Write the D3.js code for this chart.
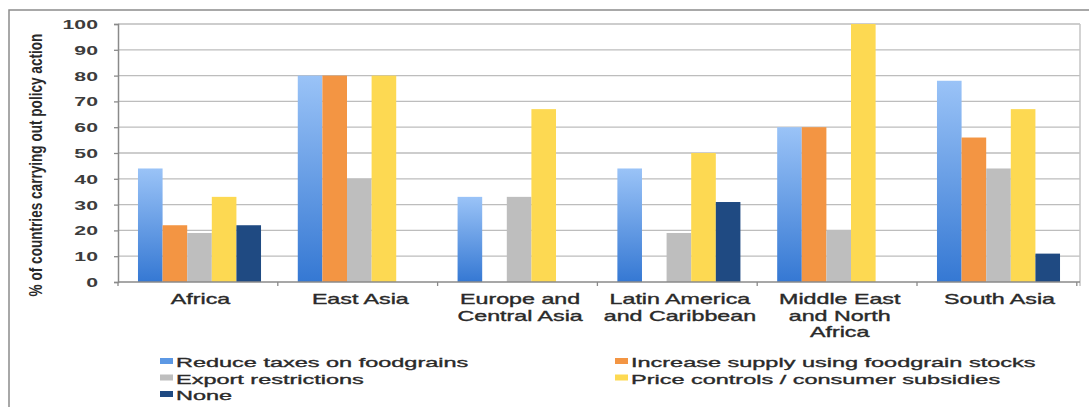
<!DOCTYPE html>
<html>
<head>
<meta charset="utf-8">
<script src="https://cdn.jsdelivr.net/npm/d3@7"></script>
<style>
  body { margin: 0; background: #fff; }
  svg { display: block; font-family: "Liberation Sans", Arial, sans-serif; }
</style>
</head>
<body>
<svg width="1089" height="407"></svg>
<script>
// regions on the x axis (line breaks as in the original)
const regions = [
  ["Africa"],
  ["East Asia"],
  ["Europe and", "Central Asia"],
  ["Latin America", "and Caribbean"],
  ["Middle East", "and North", "Africa"],
  ["South Asia"]
];
const seriesNames = [
  "Reduce taxes on foodgrains",
  "Increase supply using foodgrain stocks",
  "Export restrictions",
  "Price controls / consumer subsidies",
  "None"
];
// % of countries, one array per series, in region order
const reduceTaxes   = [44, 80, 33, 44, 60, 78];
const increaseStock = [22, 80, 0, 0, 60, 56];
const exportRestr   = [19, 40, 33, 19, 20, 44];
const priceControls = [33, 80, 67, 50, 100, 67];
const noneAction    = [22, 0, 0, 31, 0, 11];
const yTicks = [0, 10, 20, 30, 40, 50, 60, 70, 80, 90, 100];

const seriesValues = [reduceTaxes, increaseStock, exportRestr, priceControls, noneAction];
const colors = ["url(#blueGrad)", "#f39543", "#bebebe", "#fdd952", "#1f4a82"];
const legendColors = ["#5c98e4", "#f39543", "#bebebe", "#fdd952", "#1f4a82"];

const svg = d3.select("svg");
const sx = 1.66; // the picture is stretched sideways, so is its text

const defs = svg.append("defs");
const grad = defs.append("linearGradient").attr("id", "blueGrad")
  .attr("x1", 0).attr("y1", 0).attr("x2", 0).attr("y2", 1);
grad.append("stop").attr("offset", "0%").attr("stop-color", "#9ac3f7");
grad.append("stop").attr("offset", "100%").attr("stop-color", "#3578d3");

// outer frame
svg.append("rect").attr("x", 9).attr("y", 10).attr("width", 1100).attr("height", 420)
  .attr("fill", "none").attr("stroke", "#8c8c8c").attr("stroke-width", 1.5);

const plotLeft = 118, plotRight = 1080, plotTop = 24, plotBottom = 282;

const x0 = d3.scaleBand().domain(d3.range(regions.length))
  .range([plotLeft, plotRight]).paddingInner(0.23).paddingOuter(0.125);
const x1 = d3.scaleBand().domain(d3.range(seriesNames.length))
  .range([0, x0.bandwidth()]);
const y = d3.scaleLinear().domain([0, 100]).range([plotBottom, plotTop]);

// gridlines
svg.append("g").selectAll("line").data(yTicks.filter(d => d > 0)).join("line")
  .attr("x1", plotLeft).attr("x2", plotRight)
  .attr("y1", d => y(d)).attr("y2", d => y(d))
  .attr("stroke", "#bdbdbd").attr("stroke-width", 1.3);

// right edge of plot
svg.append("line").attr("x1", plotRight).attr("x2", plotRight)
  .attr("y1", plotTop).attr("y2", plotBottom + 4)
  .attr("stroke", "#c4c4c4").attr("stroke-width", 1.5);

// bars
const groups = svg.append("g").selectAll("g").data(regions).join("g")
  .attr("transform", (d, i) => `translate(${x0(i)},0)`);
groups.selectAll("rect")
  .data((d, i) => seriesValues.map((vals, s) => ({ s, v: vals[i] })))
  .join("rect")
  .attr("x", d => x1(d.s))
  .attr("width", x1.bandwidth())
  .attr("y", d => y(d.v))
  .attr("height", d => plotBottom - y(d.v))
  .attr("fill", d => colors[d.s]);

// y axis
const yAxis = svg.append("g").attr("transform", `translate(${plotLeft},0)`)
  .call(d3.axisLeft(y).tickValues(yTicks).tickSize(4).tickFormat(d3.format("d")));
yAxis.select(".domain").attr("stroke", "#8a8a8a").attr("stroke-width", 1.5);
yAxis.selectAll(".tick line").attr("stroke", "#8a8a8a").attr("stroke-width", 1.3);
yAxis.selectAll(".tick text").remove();
yAxis.selectAll(".tick").append("text")
  .attr("transform", `translate(-20,0) scale(1.7,1.05)`)
  .attr("text-anchor", "end").attr("dy", "0.35em")
  .attr("font-size", 12.5).attr("font-weight", "bold").attr("fill", "#3c3c3c")
  .text(d => d);

// x axis line with ticks at region boundaries
svg.append("line").attr("x1", plotLeft).attr("x2", plotRight)
  .attr("y1", plotBottom).attr("y2", plotBottom)
  .attr("stroke", "#8a8a8a").attr("stroke-width", 1.5);
const step = x0.step();
const bounds = d3.range(regions.length + 1).map(i => x0(0) - x0.paddingOuter() * step + i * step);
svg.append("g").selectAll("line").data(bounds).join("line")
  .attr("x1", d => d).attr("x2", d => d).attr("y1", plotBottom).attr("y2", plotBottom + 4)
  .attr("stroke", "#8a8a8a").attr("stroke-width", 1.3);

// region labels
regions.forEach((lines, i) => {
  const cx = x0(i) + x0.bandwidth() / 2 + 1;
  lines.forEach((ln, k) => {
    svg.append("text")
      .attr("transform", `translate(${cx},${304 + k * 16.5}) scale(${sx},1)`)
      .attr("text-anchor", "middle").attr("font-size", 14).attr("fill", "#2a2a2a")
      .attr("stroke", "#2a2a2a").attr("stroke-width", 0.35)
      .text(ln);
  });
});

// y axis title
svg.append("text")
  .attr("transform", "translate(42,165) rotate(-90) scale(1,1.4)")
  .attr("text-anchor", "middle").attr("font-size", 13.6).attr("font-weight", "bold")
  .attr("fill", "#2a2a2a")
  .text("% of countries carrying out policy action");

// legend: two columns
const legendPos = [
  { x: 160, y: 367 }, { x: 615, y: 367 },
  { x: 160, y: 383.5 }, { x: 615, y: 383.5 },
  { x: 160, y: 400 }
];
const legend = svg.append("g").selectAll("g").data(seriesNames).join("g")
  .attr("transform", (d, i) => `translate(${legendPos[i].x},${legendPos[i].y})`);
legend.append("rect").attr("x", 0).attr("y", -9).attr("width", 13).attr("height", 6)
  .attr("fill", (d, i) => legendColors[i]);
legend.append("text")
  .attr("transform", `translate(16,0) scale(1.74,1)`)
  .attr("font-size", 13.5).attr("fill", "#2a2a2a")
  .attr("stroke", "#2a2a2a").attr("stroke-width", 0.35)
  .text(d => d);
</script>
</body>
</html>
